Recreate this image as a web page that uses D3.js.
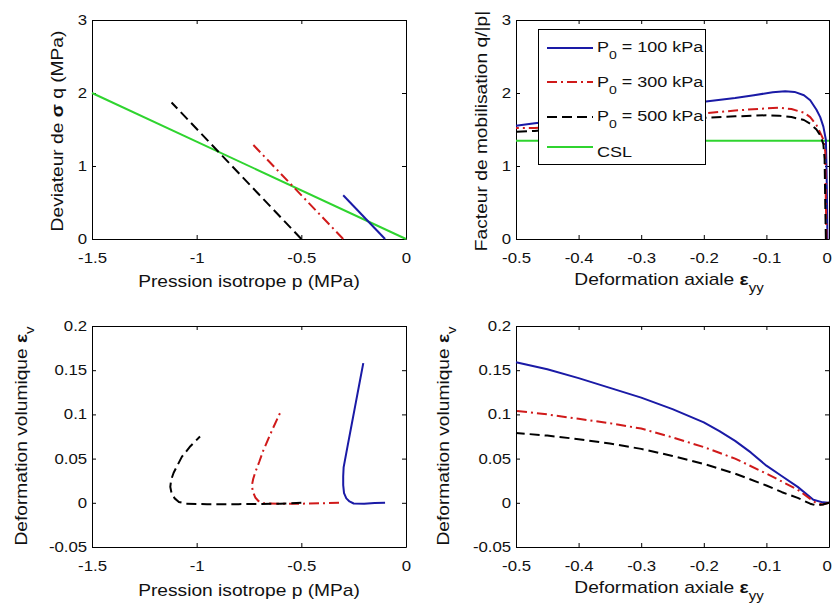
<!DOCTYPE html>
<html><head><meta charset="utf-8">
<script src="https://cdn.jsdelivr.net/npm/d3@7"></script>
<style>
body{margin:0;background:#fff}
svg{display:block}
</style>
</head><body>
<svg id="c" width="832" height="605"></svg>
<script>
// ---------------- DATA ----------------
const legendNames = [["P","0"," = 100 kPa"],["P","0"," = 300 kPa"],["P","0"," = 500 kPa"],["CSL",null,""]];

const ticksP   = [-1.5, -1, -0.5, 0];
const ticksQ   = [0, 1, 2, 3];
const ticksEyy = [-0.5, -0.4, -0.3, -0.2, -0.1, 0];
const ticksMob = [0, 1, 2, 3];
const ticksEv  = [-0.05, 0, 0.05, 0.1, 0.15, 0.2];

// Panel 1 : deviateur q (MPa) vs pression isotrope p (MPa)
const pq100 = [[-0.1,0],[-0.3,0.6]];
const pq300 = [[-0.3,0],[-0.74,1.32]];
const pq500 = [[-0.5,0],[-1.12,1.87]];
const pqCSL = [[-1.5,2.0],[0,0]];

// Panel 2 : facteur de mobilisation q/|p| vs eps_yy
const mob100 = [[-0.0025,0],[-0.003,0.4],[-0.004,1.0],[-0.005,1.36],[-0.009,1.54],[-0.014,1.67],[-0.02,1.77],[-0.03,1.9],[-0.04,1.97],[-0.055,2.015],[-0.07,2.025],[-0.09,2.01],[-0.12,1.97],[-0.15,1.93],[-0.2,1.88],[-0.3,1.76],[-0.4,1.65],[-0.47,1.585],[-0.5,1.55]];
const mob300 = [[-0.004,0],[-0.005,0.5],[-0.006,1.2],[-0.009,1.36],[-0.012,1.42],[-0.02,1.56],[-0.03,1.67],[-0.04,1.73],[-0.06,1.78],[-0.08,1.8],[-0.1,1.79],[-0.15,1.76],[-0.2,1.72],[-0.3,1.65],[-0.4,1.57],[-0.47,1.52],[-0.5,1.52]];
const mob500 = [[-0.005,0],[-0.006,0.5],[-0.007,1.1],[-0.009,1.3],[-0.014,1.42],[-0.02,1.5],[-0.03,1.58],[-0.04,1.63],[-0.06,1.67],[-0.08,1.69],[-0.1,1.695],[-0.15,1.68],[-0.2,1.66],[-0.3,1.6],[-0.4,1.53],[-0.47,1.48],[-0.5,1.47]];
const mobCSL = [[-0.5,1.345],[0,1.345]];

// Panel 3 : deformation volumique eps_v vs p (MPa)
const evp100 = [[-0.1,0],[-0.15,-0.0003],[-0.2,-0.001],[-0.25,-0.0008],[-0.27,0.0015],[-0.285,0.005],[-0.296,0.011],[-0.3,0.02],[-0.3,0.03],[-0.298,0.04],[-0.28,0.063],[-0.26,0.088],[-0.24,0.113],[-0.22,0.138],[-0.204,0.158]];
const evp300 = [[-0.32,0],[-0.4,-0.0005],[-0.5,-0.001],[-0.6,-0.001],[-0.68,-0.0005],[-0.705,0.002],[-0.72,0.006],[-0.732,0.013],[-0.736,0.02],[-0.73,0.027],[-0.721,0.034],[-0.7,0.047],[-0.682,0.059],[-0.64,0.082],[-0.597,0.104]];
const evp500 = [[-0.5,0],[-0.6,-0.001],[-0.8,-0.0015],[-0.95,-0.0015],[-1.05,-0.001],[-1.085,0.001],[-1.105,0.005],[-1.12,0.011],[-1.126,0.018],[-1.122,0.026],[-1.11,0.034],[-1.071,0.052],[-1.03,0.064],[-0.984,0.075]];

// Panel 4 : eps_v vs eps_yy
const eve100 = [[0,0],[-0.01,0.0005],[-0.025,0.0035],[-0.05,0.018],[-0.075,0.03],[-0.1,0.042],[-0.125,0.057],[-0.15,0.07],[-0.175,0.081],[-0.2,0.091],[-0.25,0.106],[-0.3,0.119],[-0.35,0.13],[-0.4,0.141],[-0.45,0.151],[-0.5,0.159]];
const eve300 = [[0,0],[-0.01,-0.002],[-0.02,-0.0005],[-0.03,0.0045],[-0.05,0.0147],[-0.075,0.024],[-0.1,0.033],[-0.15,0.05],[-0.2,0.063],[-0.25,0.074],[-0.3,0.084],[-0.35,0.09],[-0.4,0.095],[-0.45,0.1],[-0.5,0.104]];
const eve500 = [[0,0],[-0.01,-0.002],[-0.02,-0.003],[-0.03,-0.001],[-0.05,0.0056],[-0.075,0.012],[-0.1,0.0196],[-0.15,0.033],[-0.2,0.044],[-0.25,0.053],[-0.3,0.061],[-0.35,0.067],[-0.4,0.072],[-0.45,0.076],[-0.5,0.079]];

// ---------------- STYLE ----------------
const FONT = '"Liberation Sans", Arial, Helvetica, sans-serif';
const SX = 1.2;           // horizontal stretch of the reference's lettering
const TXT = "#111";
const styles = {
  s100: {color:"#1a1aa6", dash:null},
  s300: {color:"#d01a1a", dash:"10,4,2,4"},
  s500: {color:"#000000", dash:"10,5"},
  csl:  {color:"#2fd42f", dash:null}
};

const svg = d3.select("#c");
svg.append("rect").attr("width",832).attr("height",605).attr("fill","#fff");

function addText(g, x, y, rot, anchor, size, parts){
  const t = g.append("text")
    .attr("transform", `translate(${x},${y}) rotate(${rot}) scale(${SX},1)`)
    .attr("text-anchor", anchor)
    .attr("font-family", FONT)
    .attr("fill", TXT)
    .style("font-size", size + "px");
  let shift = 0;
  parts.forEach(p => {
    const ts = t.append("tspan").text(p.t);
    const target = p.sub ? size * 0.45 : 0;
    ts.attr("dy", target - shift); shift = target;
    if (p.sub) ts.style("font-size", (size * 0.78) + "px");
    if (p.bold) ts.style("font-weight", "bold");
  });
  return t;
}

function makePanel(box, xd, yd, xt, yt){
  const x = d3.scaleLinear().domain(xd).range([box.x0, box.x1]);
  const y = d3.scaleLinear().domain(yd).range([box.y1, box.y0]);
  const fmt = d => String(d);
  const styleAxis = g => {
    g.attr("font-size", 14).attr("font-family", FONT).style("color", "#000");
    g.selectAll("text").attr("fill", TXT);
  };
  svg.append("g").attr("transform", `translate(0,${box.y1})`)
    .call(d3.axisBottom(x).tickValues(xt).tickFormat(fmt).tickSizeInner(-4).tickSizeOuter(0).tickPadding(14))
    .call(styleAxis)
    .call(g => g.selectAll("text").attr("transform", `scale(${SX},1)`))
    .call(g => g.selectAll("text").filter(d => x(d) > 825).attr("dx", -2));
  svg.append("g").attr("transform", `translate(${box.x0},0)`)
    .call(d3.axisLeft(y).tickValues(yt).tickFormat(fmt).tickSizeInner(-4).tickSizeOuter(0).tickPadding(4))
    .call(styleAxis)
    .call(g => g.selectAll("text").attr("transform", `scale(${SX},1)`));
  svg.append("g").attr("transform", `translate(0,${box.y0})`)
    .call(d3.axisTop(x).tickValues(xt).tickFormat("").tickSizeInner(-4).tickSizeOuter(0))
    .call(styleAxis);
  svg.append("g").attr("transform", `translate(${box.x1},0)`)
    .call(d3.axisRight(y).tickValues(yt).tickFormat("").tickSizeInner(-4).tickSizeOuter(0))
    .call(styleAxis);
  return {x, y, box};
}

function drawLine(P, data, st){
  const line = d3.line().x(d => P.x(d[0])).y(d => P.y(d[1]));
  svg.append("path").datum(data)
    .attr("d", line)
    .attr("fill", "none")
    .attr("stroke", st.color)
    .attr("stroke-width", 2)
    .attr("stroke-linejoin", "round")
    .attr("stroke-dasharray", st.dash);
}

// ---------------- PANELS ----------------
const P1 = makePanel({x0:92, x1:406, y0:20, y1:239}, [-1.5,0], [0,3], ticksP, ticksQ);
drawLine(P1, pqCSL, styles.csl);
drawLine(P1, pq100, styles.s100);
drawLine(P1, pq300, styles.s300);
drawLine(P1, pq500, styles.s500);
addText(svg, 249, 287, 0, "middle", 16, [{t:"Pression isotrope p (MPa)"}]);
addText(svg, 63, 131, -90, "middle", 16, [{t:"Deviateur de "},{t:"σ",bold:true},{t:" q (MPa)"}]);

const P2 = makePanel({x0:516, x1:829, y0:20, y1:239}, [-0.5,0], [0,3], ticksEyy, ticksMob);
drawLine(P2, mobCSL, styles.csl);
drawLine(P2, mob100, styles.s100);
drawLine(P2, mob300, styles.s300);
drawLine(P2, mob500, styles.s500);
addText(svg, 669, 285, 0, "middle", 16, [{t:"Deformation axiale "},{t:"ε",bold:true},{t:"yy",sub:true}]);
addText(svg, 487, 131, -90, "middle", 16, [{t:"Facteur de mobilisation q/|p|"}]);

// legend
const lg = svg.append("g");
lg.append("rect").attr("x",538.5).attr("y",29.5).attr("width",167).attr("height",135)
  .attr("fill","#fff").attr("stroke","#000").attr("stroke-width",1);
const legStyles = [styles.s100, styles.s300, styles.s500, styles.csl];
const legLineY = [48, 82, 117, 147];
const legTextY = [52, 87, 121, 157];
legendNames.forEach((n, i) => {
  lg.append("line").attr("x1",547).attr("x2",593).attr("y1",legLineY[i]).attr("y2",legLineY[i])
    .attr("stroke", legStyles[i].color).attr("stroke-width",2).attr("stroke-dasharray", legStyles[i].dash);
  const parts = [{t:n[0]}];
  if (n[1]) parts.push({t:n[1], sub:true});
  if (n[2]) parts.push({t:n[2]});
  addText(lg, 597, legTextY[i], 0, "start", 15, parts);
});

const P3 = makePanel({x0:92, x1:406, y0:326, y1:547}, [-1.5,0], [-0.05,0.2], ticksP, ticksEv);
drawLine(P3, evp100, styles.s100);
drawLine(P3, evp300, styles.s300);
drawLine(P3, evp500, styles.s500);
addText(svg, 249, 596, 0, "middle", 16, [{t:"Pression isotrope p (MPa)"}]);
addText(svg, 27, 436, -90, "middle", 16, [{t:"Deformation volumique "},{t:"ε",bold:true},{t:"v",sub:true}]);

const P4 = makePanel({x0:516, x1:829, y0:326, y1:547}, [-0.5,0], [-0.05,0.2], ticksEyy, ticksEv);
drawLine(P4, eve100, styles.s100);
drawLine(P4, eve300, styles.s300);
drawLine(P4, eve500, styles.s500);
addText(svg, 669, 593, 0, "middle", 16, [{t:"Deformation axiale "},{t:"ε",bold:true},{t:"yy",sub:true}]);
addText(svg, 449, 436, -90, "middle", 16, [{t:"Deformation volumique "},{t:"ε",bold:true},{t:"v",sub:true}]);
</script>
</body></html>
